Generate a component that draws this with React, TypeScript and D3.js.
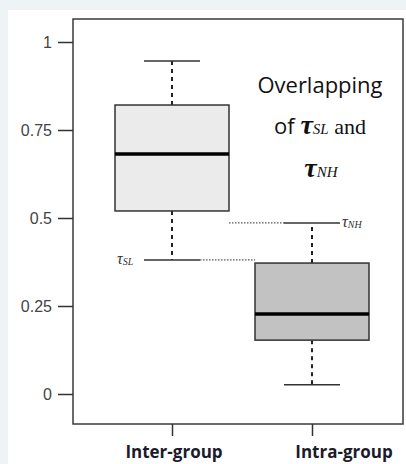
import React, { useEffect, useRef } from 'react'
import * as d3 from 'd3'

const groups = ['Inter-group', 'Intra-group']
const whiskerLow = [0.381, 0.026]
const q1 = [0.52, 0.153]
const median = [0.682, 0.227]
const q3 = [0.821, 0.372]
const whiskerHigh = [0.946, 0.486]
const boxFill = ['#ebebeb', '#c2c2c2']
const yTicks = [0, 0.25, 0.5, 0.75, 1]
const yTickLabels = ['0', '0.25', '0.5', '0.75', '1']

const W = 406
const H = 464

export default function App() {
  const ref = useRef<SVGSVGElement>(null)

  useEffect(() => {
    const svg = d3.select(ref.current)
    svg.selectAll('*').remove()

    const left = 73
    const right = 403
    const top = 19
    const bottom = 424

    const y = d3.scaleLinear().domain([0, 1]).range([394, 42])
    const x = d3.scalePoint<string>().domain(groups).range([172, 312])
    const halfBox = 57
    const halfCap = 28

    // page background
    svg.append('rect').attr('width', W).attr('height', H).attr('fill', '#eef3f5')
    svg.append('rect').attr('x', 8).attr('y', 10).attr('width', W - 8).attr('height', H - 10).attr('fill', '#fff')

    // frame
    svg.append('rect')
      .attr('x', left).attr('y', top)
      .attr('width', right - left).attr('height', bottom - top)
      .attr('fill', 'none').attr('stroke', '#3a3a3a').attr('stroke-width', 1.5)

    // y axis
    const yAxis = d3.axisLeft(y).tickValues(yTicks).tickSize(15).tickPadding(6)
      .tickFormat((d, i) => yTickLabels[i])
    const ya = svg.append('g').attr('transform', `translate(${left},0)`).call(yAxis)
    ya.select('.domain').remove()
    ya.selectAll('line').attr('stroke', '#333').attr('stroke-width', 1.5)
    ya.selectAll('text')
      .attr('font-family', 'Liberation Sans, Arial, sans-serif')
      .attr('font-size', 16).attr('fill', '#444')

    // x axis ticks
    const xAxis = d3.axisBottom(x).tickSize(12).tickFormat(() => '')
    const xa = svg.append('g').attr('transform', `translate(0,${bottom})`).call(xAxis)
    xa.select('.domain').remove()
    xa.selectAll('line').attr('stroke', '#333').attr('stroke-width', 1.5)

    // x labels
    const labelX = [174, 344]
    svg.selectAll('text.xl').data(groups).enter().append('text')
      .attr('class', 'xl')
      .attr('x', (d, i) => labelX[i]).attr('y', 458)
      .attr('text-anchor', 'middle')
      .attr('font-family', 'Open Sans, sans-serif')
      .attr('font-weight', 'bold').attr('font-size', 17)
      .attr('fill', '#1b1b2b')
      .text(d => d)

    // thresholds (dotted)
    const tauSL = whiskerLow[0]
    const tauNH = whiskerHigh[1]
    svg.append('line')
      .attr('x1', x(groups[0])! + halfCap).attr('x2', x(groups[1])! - halfBox)
      .attr('y1', y(tauSL)).attr('y2', y(tauSL))
      .attr('stroke', '#555').attr('stroke-width', 1.2).attr('stroke-dasharray', '1.5,1.5')
    svg.append('line')
      .attr('x1', x(groups[0])! + halfBox).attr('x2', x(groups[1])! - halfCap)
      .attr('y1', y(tauNH)).attr('y2', y(tauNH))
      .attr('stroke', '#555').attr('stroke-width', 1.2).attr('stroke-dasharray', '1.5,1.5')

    const g = svg.selectAll('g.box').data(groups).enter().append('g').attr('class', 'box')

    // whiskers
    g.append('line')
      .attr('x1', d => x(d)!).attr('x2', d => x(d)!)
      .attr('y1', (d, i) => y(q3[i])).attr('y2', (d, i) => y(whiskerHigh[i]))
      .attr('stroke', '#222').attr('stroke-width', 2).attr('stroke-dasharray', '4,4')
    g.append('line')
      .attr('x1', d => x(d)!).attr('x2', d => x(d)!)
      .attr('y1', (d, i) => y(q1[i])).attr('y2', (d, i) => y(whiskerLow[i]))
      .attr('stroke', '#222').attr('stroke-width', 2).attr('stroke-dasharray', '4,4')
    // caps
    g.append('line')
      .attr('x1', d => x(d)! - halfCap).attr('x2', d => x(d)! + halfCap)
      .attr('y1', (d, i) => y(whiskerHigh[i])).attr('y2', (d, i) => y(whiskerHigh[i]))
      .attr('stroke', '#333').attr('stroke-width', 1.5)
    g.append('line')
      .attr('x1', d => x(d)! - halfCap).attr('x2', d => x(d)! + halfCap)
      .attr('y1', (d, i) => y(whiskerLow[i])).attr('y2', (d, i) => y(whiskerLow[i]))
      .attr('stroke', '#333').attr('stroke-width', 1.5)
    // boxes
    g.append('rect')
      .attr('x', d => x(d)! - halfBox).attr('width', halfBox * 2)
      .attr('y', (d, i) => y(q3[i])).attr('height', (d, i) => y(q1[i]) - y(q3[i]))
      .attr('fill', (d, i) => boxFill[i]).attr('stroke', '#333').attr('stroke-width', 1.5)
    // medians
    g.append('line')
      .attr('x1', d => x(d)! - halfBox).attr('x2', d => x(d)! + halfBox)
      .attr('y1', (d, i) => y(median[i])).attr('y2', (d, i) => y(median[i]))
      .attr('stroke', '#000').attr('stroke-width', 3.5)

    // tau labels
    const tauLabel = (tx: number, ty: number, sub: string) => {
      const t = svg.append('text').attr('x', tx).attr('y', ty + 4)
        .attr('font-family', 'Liberation Serif, serif').attr('font-style', 'italic')
        .attr('fill', '#333')
      t.append('tspan').attr('font-size', 16).text('τ')
      t.append('tspan').attr('font-size', 10).attr('dy', 1).text(sub)
    }
    tauLabel(x(groups[0])! - halfCap - 27, y(tauSL), 'SL')
    tauLabel(x(groups[1])! + halfCap + 2, y(tauNH), 'NH')

    // annotation
    const ann = svg.append('g').attr('font-family', 'Open Sans, sans-serif').attr('fill', '#111')
    ann.append('text').attr('x', 320).attr('y', 93).attr('text-anchor', 'middle')
      .attr('font-size', 22).text('Overlapping')
    const l2 = ann.append('text').attr('x', 320).attr('y', 134).attr('text-anchor', 'middle')
      .attr('font-size', 22)
    l2.append('tspan').text('of ')
    l2.append('tspan').attr('font-family', 'Liberation Serif, serif').attr('font-weight', 'bold')
      .attr('font-style', 'italic').attr('font-size', 28).text('τ')
    l2.append('tspan').attr('font-family', 'Liberation Serif, serif').attr('font-style', 'italic')
      .attr('font-size', 15).text('SL')
    l2.append('tspan').attr('font-family', 'Liberation Serif, serif').attr('font-size', 22).text(' and')
    const l3 = ann.append('text').attr('x', 321).attr('y', 177).attr('text-anchor', 'middle')
    l3.append('tspan').attr('font-family', 'Liberation Serif, serif').attr('font-weight', 'bold')
      .attr('font-style', 'italic').attr('font-size', 28).text('τ')
    l3.append('tspan').attr('font-family', 'Liberation Serif, serif').attr('font-style', 'italic')
      .attr('font-size', 15).text('NH')
  }, [])

  return (
    <svg ref={ref} width={W} height={H}
      style={{ position: 'absolute', left: 0, top: 0, display: 'block' }} />
  )
}
